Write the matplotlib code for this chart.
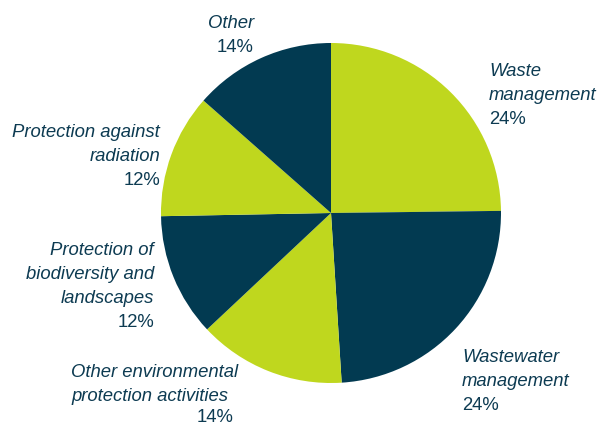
import matplotlib
matplotlib.use("Agg")
import matplotlib.pyplot as plt

# data (clockwise from 12 o'clock)
categories = ["Waste\nmanagement", "Wastewater\nmanagement",
              "Other environmental\nprotection activities",
              "Protection of\nbiodiversity and\nlandscapes",
              "Protection against\nradiation", "Other"]
shares = [24.8, 24.2, 14.0, 11.7, 11.8, 13.5]
pct_labels = ["24%", "24%", "14%", "12%", "12%", "14%"]

green = "#bfd71e"
navy = "#023a51"
text_col = "#0d3b52"
colors = [green, navy, green, navy, green, navy]

W, H = 601, 426
fig = plt.figure(figsize=(W / 100, H / 100), dpi=100)

cx, cy, r = 331, 213, 170
ax = fig.add_axes([(cx - r) / W, (H - cy - r) / H, 2 * r / W, 2 * r / H])
ax.pie(shares, colors=colors, startangle=90, counterclock=False, radius=1,
       wedgeprops=dict(linewidth=0))
ax.set_xlim(-1, 1)
ax.set_ylim(-1, 1)
ax.set_aspect("auto")
ax.axis("off")

fs = 13.3
step = 24
font = "Liberation Sans"

# label anchors in pixels: (x of name, x of pct, first baseline y, align name, align pct)
layout = [
    (489, 489, 76, "left", "left"),
    (462, 462, 362, "left", "left"),
    (71, 234, 377, "left", "right"),
    (154, 154, 255, "right", "right"),
    (160, 160, 137, "right", "right"),
    (254, 253, 28, "right", "right"),
]

for name, pct, (xn, xp, y0, han, hap) in zip(categories, pct_labels, layout):
    lines = name.split("\n")
    for k, line in enumerate(lines):
        fig.text(xn / W, 1 - (y0 + k * step) / H, line, ha=han, va="baseline",
                 fontsize=fs, style="italic", color=text_col, family=font)
    yp = min(y0 + len(lines) * step, 422)
    fig.text(xp / W, 1 - yp / H, pct, ha=hap, va="baseline",
             fontsize=fs, color=text_col, family=font)

fig.savefig("out.png", dpi=100)
